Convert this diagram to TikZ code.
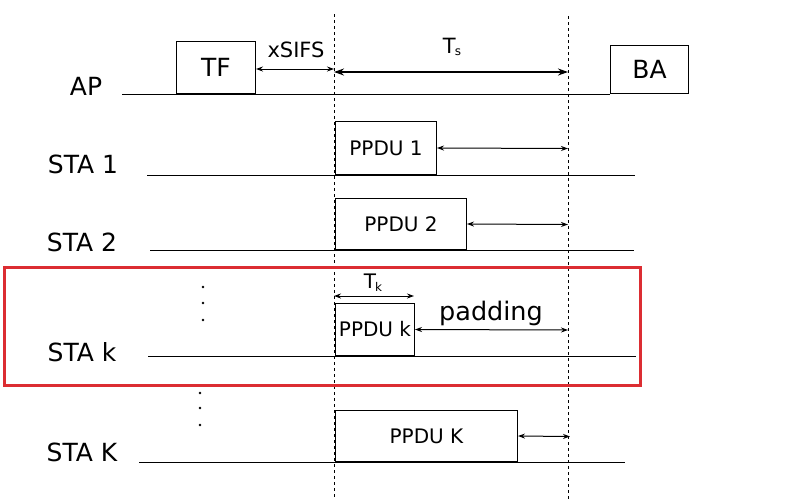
\documentclass[tikz,border=0pt]{standalone}
\usepackage{fontspec}
\setmainfont{DejaVu Sans}
\usetikzlibrary{arrows.meta}
\begin{document}
\begin{tikzpicture}[x=1pt,y=-1pt,
  lbl/.style={inner sep=0pt,font=\fontsize{25}{25}\selectfont},
  box/.style={draw,line width=1pt,inner sep=0pt,anchor=south west},
  tl/.style={line width=1pt},
  dsh/.style={line width=0.9pt,dash pattern=on 3pt off 3pt},
  arr/.style={line width=1pt,{Stealth[length=7pt,width=5pt]}-{Stealth[length=7pt,width=5pt]}},
  bigarr/.style={line width=1.3pt,{Stealth[length=10pt,width=7pt]}-{Stealth[length=10pt,width=7pt]}},
  dotn/.style={circle,fill,inner sep=0pt,minimum size=2.6pt}]
\useasboundingbox (0,0) rectangle (793,499);
% dashed verticals
\coordinate (d1t) at (334,14); \coordinate (d1b) at (334,499);
\coordinate (d2t) at (568,16); \coordinate (d2b) at (568,499);
\draw[dsh] (d1t) -- (d1b);
\draw[dsh] (d2t) -- (d2b);
% AP
\node[lbl] (ap) at (86,86) {AP};
\coordinate (apl) at (122,94); \coordinate (apr) at (610,94);
\draw[tl] (apl) -- (apr);
\node[box,minimum width=79pt,minimum height=52pt,font=\fontsize{25}{25}\selectfont] (tf) at (176,93.5) {TF};
\node[box,minimum width=78pt,minimum height=48pt,font=\fontsize{25}{25}\selectfont] (ba) at (610,93.5) {BA};
\coordinate (xs1) at (334,69);
\draw[arr] (tf.east |- xs1) -- (xs1);
\node[inner sep=0pt,font=\fontsize{21}{21}\selectfont] (xsifs) at (296,50) {xSIFS};
\coordinate (ts1) at (334,72); \coordinate (ts2) at (568,72);
\draw[bigarr] (ts1) -- (ts2);
\node[inner sep=0pt,font=\fontsize{21}{21}\selectfont] (tslab) at (452,47) {T\kern-1pt\raisebox{-2pt}{\fontsize{12}{12}\selectfont s}};
% STA 1
\node[lbl] (s1) at (83,164) {STA 1};
\coordinate (s1l) at (147,175); \coordinate (s1r) at (635,175);
\draw[tl] (s1l) -- (s1r);
\node[box,minimum width=101pt,minimum height=53pt,font=\fontsize{20}{20}\selectfont] (p1) at (335,175) {PPDU 1};
\coordinate (e1) at (568,148.5);
\draw[arr] (p1.east) -- (e1);
% STA 2
\node[lbl] (s2) at (82,242) {STA 2};
\coordinate (s2l) at (150,250); \coordinate (s2r) at (634,250);
\draw[tl] (s2l) -- (s2r);
\node[box,minimum width=131pt,minimum height=51pt,font=\fontsize{20}{20}\selectfont] (p2) at (335,250) {PPDU 2};
\coordinate (e2) at (568,224.5);
\draw[arr] (p2.east) -- (e2);
% red frame
\node[draw={rgb,255:red,220;green,45;blue,50},line width=2.5pt,inner sep=0pt,minimum width=636pt,minimum height=118pt,anchor=north west] (frame) at (3,266) {};
% dots
\node[dotn] (da1) at (203,287) {};
\node[dotn] (da2) at (203,303) {};
\node[dotn] (da3) at (203,320) {};
\node[dotn] (db1) at (200,393) {};
\node[dotn] (db2) at (200,408) {};
\node[dotn] (db3) at (200,425) {};
% STA k
\node[lbl] (sk) at (82,352) {STA k};
\coordinate (skl) at (148,356); \coordinate (skr) at (636,356);
\draw[tl] (skl) -- (skr);
\node[box,minimum width=79pt,minimum height=52pt,font=\fontsize{20}{20}\selectfont] (pk) at (335,356) {PPDU k};
\coordinate (ek) at (568,330);
\draw[arr] (pk.east) -- (ek);
\coordinate (tk1) at (334,296); \coordinate (tk2) at (414,296);
\draw[arr] (tk1) -- (tk2);
\node[inner sep=0pt,font=\fontsize{20}{20}\selectfont] (tklab) at (373,283) {T\kern-1pt\raisebox{-3pt}{\fontsize{12}{12}\selectfont k}};
\node[inner sep=0pt,font=\fontsize{25.5}{25.5}\selectfont] (pad) at (491,313) {padding};
% STA K
\node[lbl] (sK) at (82,452) {STA K};
\coordinate (sKl) at (139,462); \coordinate (sKr) at (625,462);
\draw[tl] (sKl) -- (sKr);
\node[box,minimum width=182pt,minimum height=51pt,font=\fontsize{20}{20}\selectfont] (pK) at (335,462) {PPDU K};
\coordinate (eK) at (570,436.5);
\draw[arr] (pK.east) -- (eK);
\end{tikzpicture}
\end{document}
